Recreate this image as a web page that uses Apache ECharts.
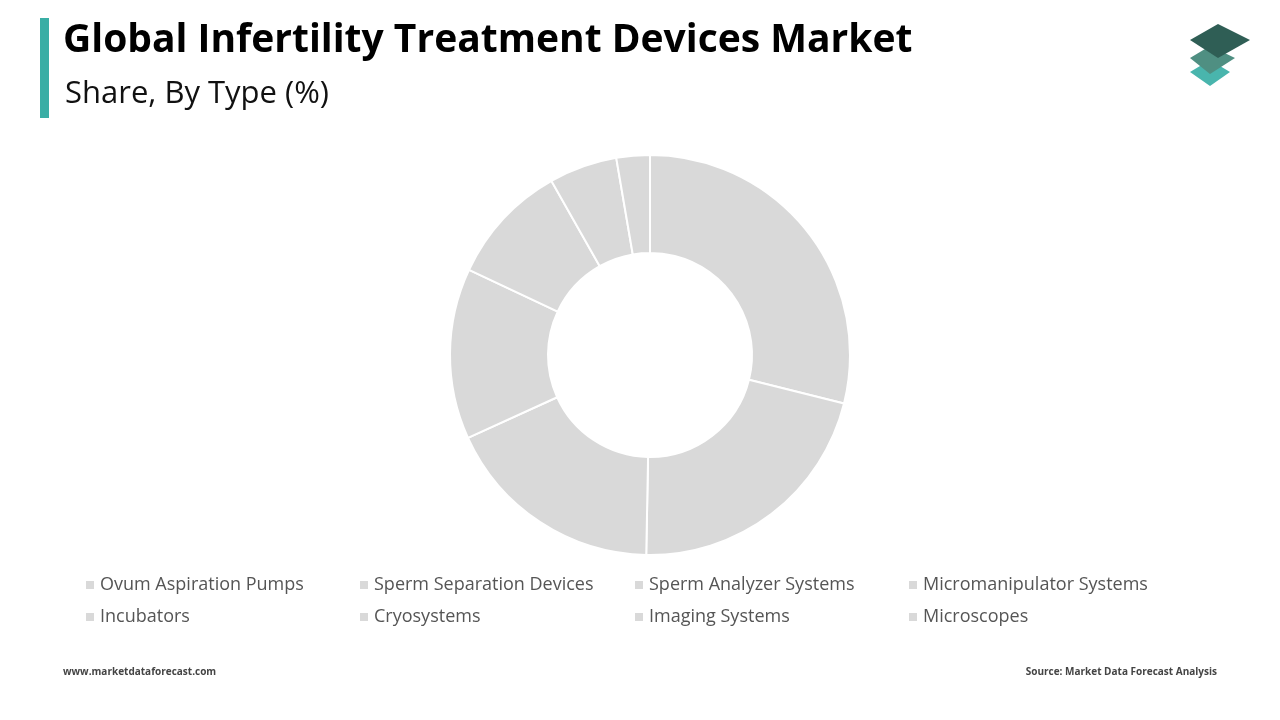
<!DOCTYPE html>
<html><head><meta charset="utf-8">
<script src="https://cdn.jsdelivr.net/npm/echarts@6/dist/echarts.min.js"></script>
<style>html,body{margin:0;padding:0;background:#fff}#c{width:1280px;height:720px}</style>
</head><body><div id="c"></div>
<script>
var categories=["Ovum Aspiration Pumps","Sperm Separation Devices","Sperm Analyzer Systems","Micromanipulator Systems","Incubators","Cryosystems","Imaging Systems","Microscopes"];
var values=[28.9,21.4,17.9,13.8,9.8,5.5,2.7,0];
var chart=echarts.init(document.getElementById('c'));
var legendX=[79,353,628,902], legendY=[571,603];
var legends=categories.map(function(n,i){return {data:[n],left:legendX[i%4],top:legendY[Math.floor(i/4)],icon:'rect',itemWidth:10,itemHeight:10,
 textStyle:{fontFamily:'Open Sans',fontSize:18,color:'#555'},selectedMode:false};});
chart.setOption({
 color:['#d9d9d9'],
 title:[{text:'Global Infertility Treatment Devices Market',left:58,top:16,textStyle:{fontFamily:'Open Sans',fontWeight:'bold',fontSize:39,color:'#000'}},
  {text:'Share, By Type (%)',left:60,top:74,textStyle:{fontFamily:'Open Sans',fontWeight:'normal',fontSize:31,color:'#111'}},
  {text:'www.marketdataforecast.com',left:58,top:662,textStyle:{fontFamily:'Open Sans',fontWeight:'bold',fontSize:10,color:'#444'}},
  {text:'Source: Market Data Forecast Analysis',right:58,top:662,textStyle:{fontFamily:'Open Sans',fontWeight:'bold',fontSize:10,color:'#444'}}],
 legend:legends,
 graphic:[{type:'rect',shape:{x:40,y:18,width:9,height:100},style:{fill:'#3aaea5'}},
  {type:'polygon',shape:{points:[[1190,72],[1210,60],[1230,72],[1210,86]]},style:{fill:'#49b5ad'}},
  {type:'polygon',shape:{points:[[1190,58],[1210,46],[1235,58],[1210,74]]},style:{fill:'#4f8f82'}},
  {type:'polygon',shape:{points:[[1190,40],[1218,24],[1250,40],[1218,58]]},style:{fill:'#2f5e55'}}],
 series:[{type:'pie',center:[650,355],radius:[102,200],startAngle:90,clockwise:true,label:{show:false},
  itemStyle:{color:'#d9d9d9',borderColor:'#fff',borderWidth:2},emphasis:{disabled:true},
  data:categories.map(function(n,i){return {name:n,value:values[i]};})}]
});
</script></body></html>
